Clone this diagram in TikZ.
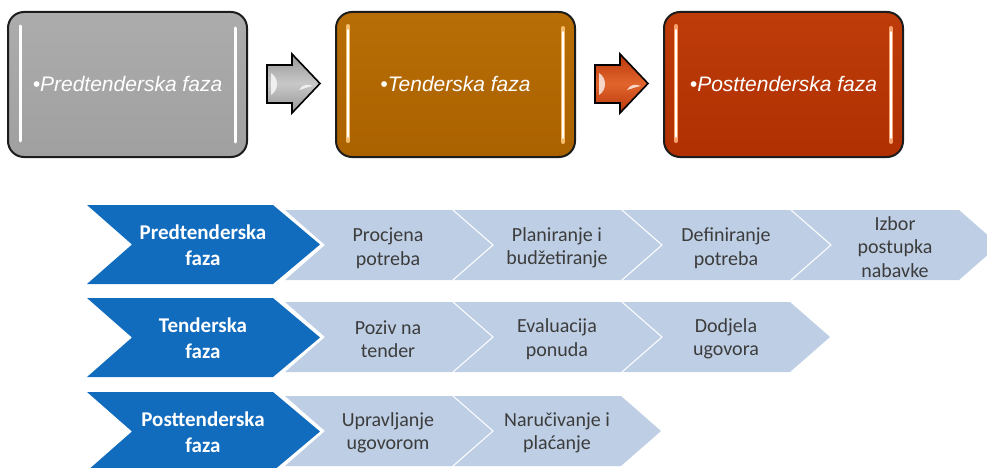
\documentclass[tikz,border=0pt]{standalone}
\usepackage{fontspec}
\setmainfont{Carlito}
\newfontfamily\arialfont{Liberation Sans}
\definecolor{sblue}{RGB}{18,108,190}
\definecolor{lblue}{RGB}{190,207,229}
\definecolor{txtgray}{RGB}{60,60,60}
\definecolor{boxline}{RGB}{28,28,28}
\definecolor{grayA}{RGB}{172,172,172}
\definecolor{grayB}{RGB}{160,160,160}
\definecolor{orA}{RGB}{184,110,6}
\definecolor{orB}{RGB}{170,98,0}
\definecolor{orHi}{RGB}{245,190,110}
\definecolor{rdA}{RGB}{190,60,10}
\definecolor{rdB}{RGB}{176,48,2}
\definecolor{rdHi}{RGB}{248,160,110}
\definecolor{arrGrayA}{RGB}{200,200,200}
\definecolor{arrGrayB}{RGB}{150,150,150}
\definecolor{arrRdA}{RGB}{225,100,45}
\definecolor{arrRdB}{RGB}{185,55,10}
\tikzset{
  topbox/.style={draw=boxline, line width=2pt, rounded corners=16pt},
  toptext/.style={font=\arialfont\itshape\fontsize{21}{25}\selectfont, text=white},
  hiline/.style={line width=3pt, line cap=round},
  blockarrow/.style={draw=black, line width=1.6pt, line join=miter},
  bchev/.style={fill=sblue},
  lchev/.style={fill=lblue},
  btext/.style={font=\bfseries\fontsize{21}{26}\selectfont, text=white, align=center},
  ltext/.style={font=\fontsize{20}{23.5}\selectfont, text=txtgray, align=center},
}
\newcommand\BChevron[3]{% x0, top, bottom
  \fill[bchev] (#1,#2) -- ({#1+186},#2) -- ({#1+233},{(#2+#3)/2}) -- ({#1+186},#3) -- (#1,#3) -- ({#1+45},{(#2+#3)/2}) -- cycle;}
\newcommand\LChevron[3]{% x0, top, bottom
  \fill[lchev] (#1,#2) -- ({#1+167},#2) -- ({#1+207},{(#2+#3)/2}) -- ({#1+167},#3) -- (#1,#3) -- ({#1+40},{(#2+#3)/2}) -- cycle;}
\newcommand\BlockArrow[3]{% x shift, colour A, colour B
  \begin{scope}[xshift=#1pt]
    \draw[blockarrow, top color=#3, bottom color=#3, middle color=#2]
      (267,65) -- (292,65) -- (292,54) -- (320,83.5) -- (292,113) -- (292,103) -- (267,103) -- cycle;
    \fill[white, opacity=0.75] (271,73) .. controls (279,78) and (279,90) .. (271,95) -- cycle;
    \fill[white, opacity=0.75] (299,90) .. controls (302,84) and (308,84) .. (313,86) .. controls (307,87) and (303,89) .. (299,90) -- cycle;
  \end{scope}}
\begin{document}
\begin{tikzpicture}[x=1pt,y=-1pt]
\useasboundingbox (0,0) rectangle (987,468);
\clip (0,0) rectangle (987,468);
% ---------- top boxes ----------
\draw[topbox, top color=grayA, bottom color=grayB] (8,12) rectangle (247,157);
\draw[hiline, white] (20,26) -- (20,141);
\draw[hiline, white] (235,28) -- (235,142);
\node[toptext] (t1) at (127.5,84) {•Predtenderska faza};

\draw[topbox, top color=orA, bottom color=orB] (336,12) rectangle (575,157);
\draw[hiline, orHi, line width=4pt] (348,26) -- (348,141);
\draw[hiline, white, line width=1.5pt] (348,30) -- (348,137);
\draw[hiline, orHi, line width=4pt] (563,28) -- (563,142);
\draw[hiline, white, line width=1.5pt] (563,32) -- (563,138);
\node[toptext] (t2) at (455.5,84) {•Tenderska faza};

\draw[topbox, top color=rdA, bottom color=rdB] (664,12) rectangle (903,157);
\draw[hiline, rdHi, line width=4pt] (676,26) -- (676,141);
\draw[hiline, white, line width=1.5pt] (676,30) -- (676,137);
\draw[hiline, rdHi, line width=4pt] (891,28) -- (891,142);
\draw[hiline, white, line width=1.5pt] (891,32) -- (891,138);
\node[toptext] (t3) at (783.5,84) {•Posttenderska faza};

\BlockArrow{0}{arrGrayA}{arrGrayB}
\BlockArrow{328}{arrRdA}{arrRdB}

% ---------- row 1 ----------
\LChevron{285}{210}{280}
\LChevron{454}{210}{280}
\LChevron{623}{210}{280}
\LChevron{792}{210}{280}
\BChevron{87}{205}{284}
\node[btext] (r1a) at (203,245.5) {Predtenderska\\faza};
\node[ltext] (r1b) at (388,248) {Procjena\\potreba};
\node[ltext] (r1c) at (557,248) {Planiranje i\\budžetiranje};
\node[ltext] (r1d) at (726,248) {Definiranje\\potreba};
\node[ltext] (r1e) at (895,247) {Izbor\\postupka\\nabavke};

% ---------- row 2 ----------
\LChevron{285}{302}{372}
\LChevron{454}{302}{372}
\LChevron{623}{302}{372}
\BChevron{87}{298}{377}
\node[btext] (r2a) at (203,338.5) {Tenderska\\faza};
\node[ltext] (r2b) at (388,339) {Poziv na\\tender};
\node[ltext] (r2c) at (557,339) {Evaluacija\\ponuda};
\node[ltext] (r2d) at (726,339) {Dodjela\\ugovora};

% ---------- row 3 ----------
\LChevron{285}{396}{466}
\LChevron{454}{396}{466}
\BChevron{87}{392}{471}
\node[btext] (r3a) at (203,432.5) {Posttenderska\\faza};
\node[ltext] (r3b) at (388,433) {Upravljanje\\ugovorom};
\node[ltext] (r3c) at (557,433) {Naručivanje i\\plaćanje};
\end{tikzpicture}
\end{document}
